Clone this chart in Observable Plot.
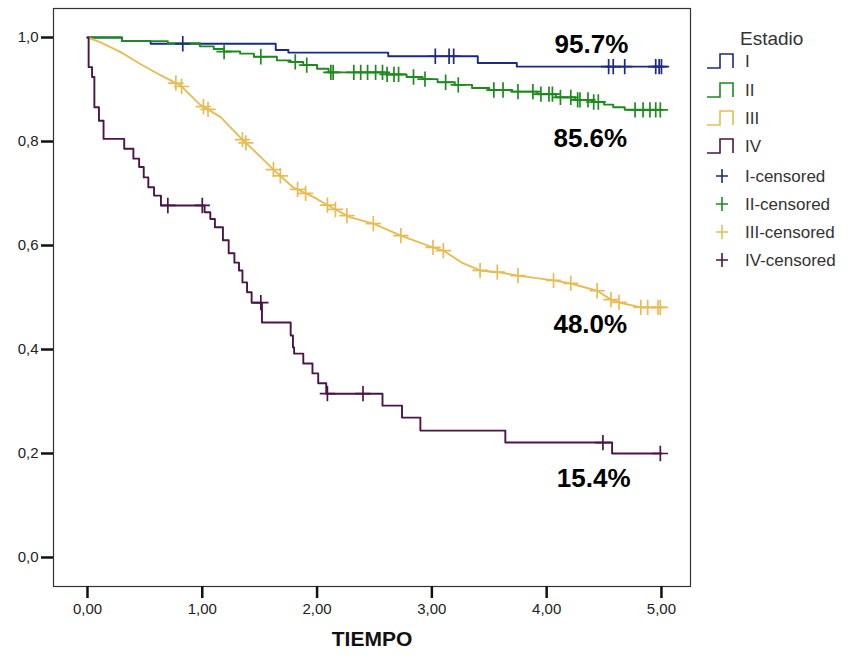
<!DOCTYPE html>
<html>
<head>
<meta charset="utf-8">
<script src="https://cdn.jsdelivr.net/npm/d3@7"></script>
<script src="https://cdn.jsdelivr.net/npm/@observablehq/plot@0.6"></script>
<style>
  html, body { margin: 0; padding: 0; background: #fff; }
  #wrap { position: relative; width: 848px; height: 659px; overflow: hidden; }
  #legend { position: absolute; left: 0; top: 0; }
</style>
</head>
<body>
<div id="wrap"><div id="chart"></div><svg id="legend" width="848" height="659"></svg></div>
<script>
// ---- data ----
const stages = ["I", "II", "III", "IV"];
const stageColors = ["#1b2a84", "#1e8a1e", "#e6bd55", "#4a1547"];

// Stage I (Kaplan-Meier steps)
const stageI_t = [0, 0.30, 0.55, 1.64, 1.75, 2.62, 3.40, 3.74, 5.0];
const stageI_s = [1.0, 0.993, 0.988, 0.976, 0.971, 0.964, 0.951, 0.944, 0.944];
const stageI_cens = [0.83, 3.03, 3.15, 3.19, 4.54, 4.58, 4.68, 4.95, 4.98, 5.0];

// Stage II
const stageII_t = [0, 0.30, 0.70, 0.98, 1.10, 1.19, 1.33, 1.45, 1.65, 1.77, 1.88, 2.00, 2.10, 2.60, 2.78, 2.92, 3.05, 3.20, 3.35, 3.50, 3.70, 3.92, 4.08, 4.25, 4.40, 4.50, 4.58, 4.68, 5.0];
const stageII_s = [1.0, 0.993, 0.989, 0.983, 0.978, 0.973, 0.969, 0.963, 0.956, 0.953, 0.947, 0.940, 0.933, 0.929, 0.924, 0.920, 0.914, 0.909, 0.903, 0.899, 0.896, 0.891, 0.885, 0.880, 0.876, 0.871, 0.866, 0.861, 0.861];
const stageII_cens = [1.19, 1.51, 1.81, 1.91, 2.12, 2.14, 2.32, 2.38, 2.44, 2.51, 2.57, 2.61, 2.67, 2.71, 2.84, 2.94, 3.12, 3.23, 3.54, 3.62, 3.75, 3.88, 3.95, 4.02, 4.05, 4.12, 4.21, 4.27, 4.29, 4.36, 4.41, 4.45, 4.77, 4.84, 4.90, 4.95, 4.99];

// Stage III
const stageIII_t = [0, 0.11, 0.29, 0.46, 0.64, 0.81, 0.98, 1.16, 1.33, 1.51, 1.62, 1.79, 1.97, 2.12, 2.29, 2.49, 2.73, 2.99, 3.10, 3.27, 3.42, 3.60, 3.75, 4.06, 4.21, 4.44, 4.56, 4.64, 4.82, 5.0];
const stageIII_s = [1.0, 0.991, 0.972, 0.949, 0.927, 0.908, 0.871, 0.847, 0.808, 0.770, 0.746, 0.712, 0.693, 0.674, 0.654, 0.642, 0.619, 0.598, 0.590, 0.566, 0.552, 0.548, 0.542, 0.533, 0.527, 0.513, 0.496, 0.490, 0.481, 0.481];
const stageIII_cens = [0.77, 0.82, 1.01, 1.05, 1.35, 1.38, 1.62, 1.68, 1.83, 1.90, 2.09, 2.16, 2.26, 2.49, 2.73, 3.01, 3.10, 3.42, 3.57, 3.75, 4.06, 4.21, 4.44, 4.56, 4.63, 4.82, 4.88, 4.97, 4.99];

// Stage IV
const stageIV_t = [0, 0.01, 0.04, 0.06, 0.10, 0.14, 0.32, 0.40, 0.45, 0.49, 0.53, 0.58, 0.64, 1.02, 1.07, 1.11, 1.18, 1.23, 1.28, 1.32, 1.35, 1.39, 1.43, 1.52, 1.77, 1.79, 1.80, 1.88, 1.96, 2.01, 2.08, 2.57, 2.74, 2.90, 3.64, 4.57, 5.0];
const stageIV_s = [1.0, 0.943, 0.924, 0.866, 0.840, 0.805, 0.786, 0.767, 0.751, 0.731, 0.712, 0.696, 0.677, 0.664, 0.651, 0.635, 0.610, 0.585, 0.567, 0.552, 0.529, 0.510, 0.490, 0.452, 0.427, 0.404, 0.392, 0.373, 0.354, 0.335, 0.315, 0.292, 0.269, 0.244, 0.221, 0.200, 0.200];
const stageIV_cens = [0.70, 1.00, 1.51, 2.09, 2.40, 4.49, 4.99];

// annotations
const pctText = ["95.7%", "85.6%", "48.0%", "15.4%"];
const pctAnchorT = [4.39, 4.38, 4.38, 4.41];
const pctAnchorS = [0.986, 0.806, 0.448, 0.152];

// axes
const yTicks = [0, 0.2, 0.4, 0.6, 0.8, 1.0];
const xTicks = [0, 1, 2, 3, 4, 5];
const xLabel = "TIEMPO";
const legendTitle = "Estadio";

// ---- build tables ----
const series = [
  {t: stageI_t, s: stageI_s, c: stageI_cens, curve: "step-after"},
  {t: stageII_t, s: stageII_s, c: stageII_cens, curve: "step-after"},
  {t: stageIII_t, s: stageIII_s, c: stageIII_cens, curve: "linear"},
  {t: stageIV_t, s: stageIV_s, c: stageIV_cens, curve: "step-after"}
];
function valueAt(sr, t) {
  const {t: ts, s: ss, curve} = sr;
  for (let i = ts.length - 1; i >= 0; i--) {
    if (ts[i] <= t) {
      if (curve === "linear" && i < ts.length - 1) {
        const f = (t - ts[i]) / (ts[i + 1] - ts[i]);
        return ss[i] + f * (ss[i + 1] - ss[i]);
      }
      return ss[i];
    }
  }
  return ss[0];
}
const marks = [];
series.forEach((sr, k) => {
  const pts = sr.t.map((t, i) => ({t, s: sr.s[i]}));
  marks.push(Plot.line(pts, {x: "t", y: "s", curve: sr.curve, stroke: stageColors[k], strokeWidth: 1.9}));
});
series.forEach((sr, k) => {
  const cens = sr.c.map(t => ({t, s: valueAt(sr, t)}));
  marks.push(Plot.dot(cens, {x: "t", y: "s", symbol: "plus", r: 5, stroke: stageColors[k], strokeWidth: 1.7}));
});
const pcts = pctText.map((label, i) => ({label, t: pctAnchorT[i], s: pctAnchorS[i]}));

const fmtY = d => d.toFixed(1).replace(".", ",");
const fmtX = d => d.toFixed(2).replace(".", ",");

const chart = Plot.plot({
  width: 848,
  height: 659,
  marginLeft: 53,
  marginRight: 158,
  marginTop: 8,
  marginBottom: 73,
  x: {domain: [-0.296, 5.253]},
  y: {domain: [-0.0558, 1.0558]},
  style: {fontFamily: "'Liberation Sans', Arial, sans-serif", fontSize: "15px", color: "#222", background: "#fff"},
  marks: [
    Plot.frame({stroke: "#333", strokeWidth: 1.2}),
    Plot.axisY({ticks: yTicks, tickFormat: fmtY, tickSize: 12, tickPadding: 3, strokeWidth: 2.5, stroke: "#111", label: null, fontSize: 15, fill: "#222"}),
    Plot.axisX({ticks: xTicks, tickFormat: fmtX, tickSize: 12, tickPadding: 5, strokeWidth: 2.5, stroke: "#111", label: null, fontSize: 15, fill: "#222"}),
    ...marks,
    Plot.text(pcts, {x: "t", y: "s", text: "label", fontSize: 26, fontWeight: "bold", fill: "#000"}),
    Plot.text([xLabel], {text: d => d, frameAnchor: "bottom", dy: 59, fontSize: 21, fontWeight: "bold", fill: "#111"})
  ]
});
document.getElementById("chart").appendChild(chart);

// ---- legend ----
const lg = d3.select("#legend");
const fontFam = "'Liberation Sans', Arial, sans-serif";
lg.append("text").attr("x", 740).attr("y", 45).attr("font-family", fontFam).attr("font-size", 19).attr("fill", "#333").text(legendTitle);
const stepY = [61, 90, 118, 146];
stages.forEach((st, i) => {
  const y = stepY[i];
  lg.append("path")
    .attr("d", `M707,${y + 7}H720V${y - 7}H733V${y + 7}`)
    .attr("fill", "none").attr("stroke", stageColors[i]).attr("stroke-width", 1.6);
  lg.append("text").attr("x", 745).attr("y", y + 6).attr("font-family", fontFam).attr("font-size", 17).attr("fill", "#333").text(st);
});
const censY = [176, 204, 232, 260];
stages.forEach((st, i) => {
  const y = censY[i];
  lg.append("path")
    .attr("d", `M716,${y}H728M722,${y - 7}V${y + 7}`)
    .attr("fill", "none").attr("stroke", stageColors[i]).attr("stroke-width", 1.6);
  lg.append("text").attr("x", 745).attr("y", y + 6).attr("font-family", fontFam).attr("font-size", 17).attr("fill", "#333").text(st + "-censored");
});
</script>
</body>
</html>
